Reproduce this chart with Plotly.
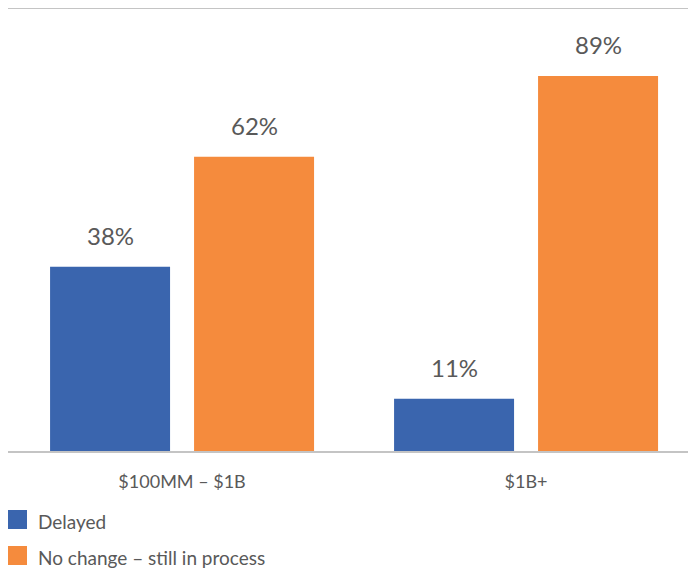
import plotly.graph_objects as go

# ---- data ----
categories = ["$100MM – $1B", "$1B+"]
series_names = ["Delayed", "No change – still in process"]
# bar heights as drawn in the picture (percent units)
delayed_values = [38.8, 11.0]
no_change_values = [62.0, 79.0]
# data labels printed above the bars
delayed_labels = ["38%", "11%"]
no_change_labels = ["62%", "89%"]
axis_max = 93.1

BLUE = "#3A65AE"
ORANGE = "#F58B3D"
TEXT = "#595959"
LINE = "#c4c4c4"
FONT = "Lato, 'Open Sans', sans-serif"

fig = go.Figure()
fig.add_trace(go.Bar(x=categories, y=delayed_values, name=series_names[0],
                     marker=dict(color=BLUE, line=dict(width=0)), showlegend=False,
                     hoverinfo="x+y"))
fig.add_trace(go.Bar(x=categories, y=no_change_values, name=series_names[1],
                     marker=dict(color=ORANGE, line=dict(width=0)), showlegend=False,
                     hoverinfo="x+y"))

annotations = []
for vals, labs, shift in [(delayed_values, delayed_labels, -72),
                          (no_change_values, no_change_labels, 72)]:
    for c, v, t in zip(categories, vals, labs):
        annotations.append(dict(x=c, y=v, xref="x", yref="y", text=t, showarrow=False,
                                xshift=shift, yshift=31, xanchor="center", yanchor="middle",
                                font=dict(family=FONT, size=24, color=TEXT)))

# legend (manual, to match large square swatches)
shapes = []
for i, (name, col) in enumerate(zip(series_names, [BLUE, ORANGE])):
    top = -59 - 36 * i
    shapes.append(dict(type="rect", xref="paper", yref="paper",
                       xsizemode="pixel", ysizemode="pixel", xanchor=0, yanchor=0,
                       x0=-1, x1=19, y0=top, y1=top - 19,
                       fillcolor=col, line=dict(width=0)))
    annotations.append(dict(x=0, y=0, xref="paper", yref="paper", text=name,
                            showarrow=False, xshift=28, yshift=top - 11,
                            xanchor="left", yanchor="middle",
                            font=dict(family=FONT, size=19, color=TEXT)))

fig.update_layout(
    width=688, height=563,
    margin=dict(l=0, r=0, t=1, b=120),
    paper_bgcolor="white", plot_bgcolor="white",
    barmode="group", bargap=0.1628, bargroupgap=1 / 6,
    font=dict(family=FONT, color=TEXT),
    annotations=annotations, shapes=shapes,
    xaxis=dict(type="category", range=[-0.506, 1.494], showline=True, mirror=True,
               linecolor=LINE, linewidth=1.5, ticks="outside", ticklen=14,
               tickcolor="rgba(0,0,0,0)", showgrid=False, zeroline=False,
               tickfont=dict(family=FONT, size=18, color=TEXT)),
    yaxis=dict(range=[0, axis_max], visible=False, showgrid=False, zeroline=False),
)

fig.write_html("out.html")
